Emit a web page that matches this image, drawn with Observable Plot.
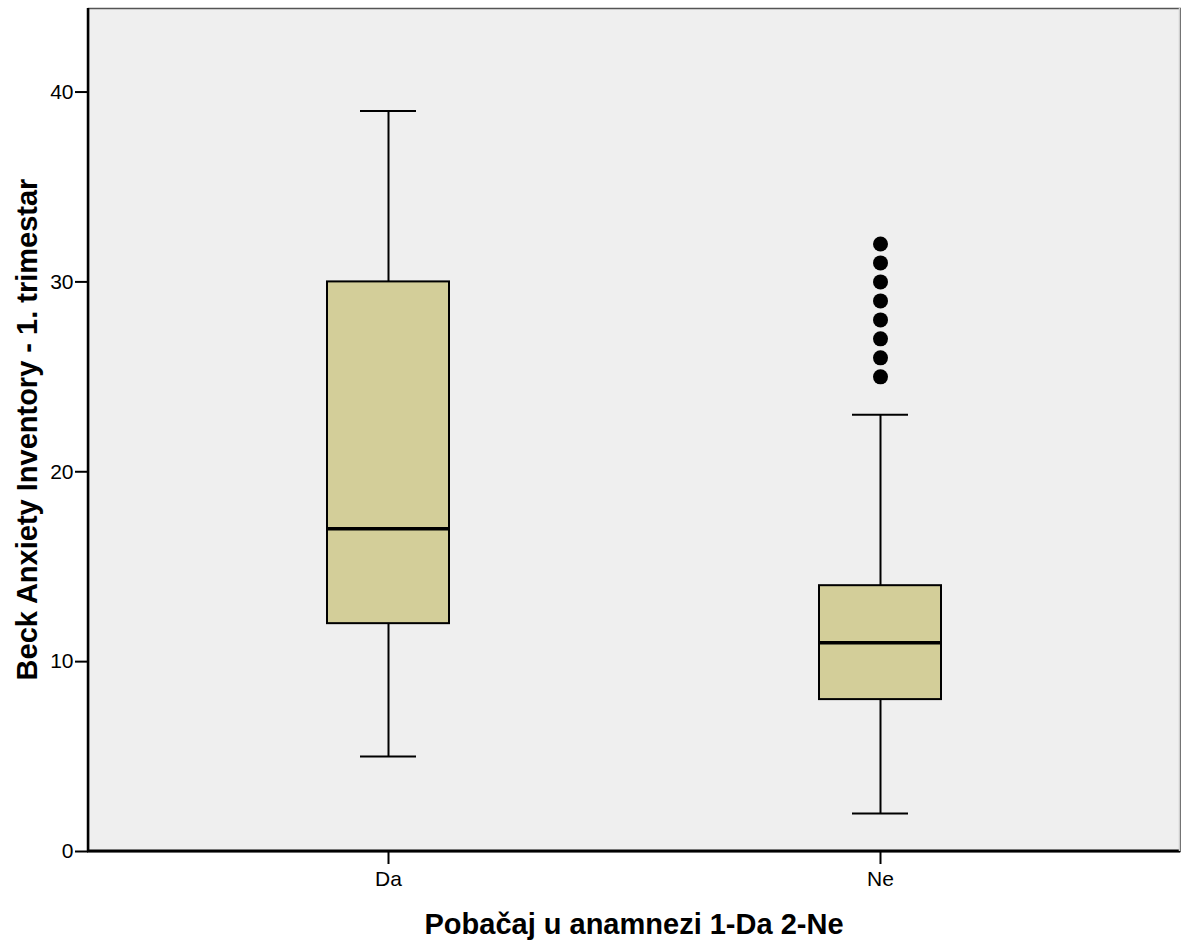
<!DOCTYPE html>
<html>
<head>
<meta charset="utf-8">
<script src="https://cdn.jsdelivr.net/npm/d3@7"></script>
<script src="https://cdn.jsdelivr.net/npm/@observablehq/plot@0.6"></script>
<style>
  html, body { margin: 0; padding: 0; background: #fff; }
  #chart svg { display: block; }
</style>
</head>
<body>
<div id="chart"></div>
<script>
const groups = ["Da", "Ne"];
const whiskerLow = [5, 2];
const q1 = [12, 8];
const median = [17, 11];
const q3 = [30, 14];
const whiskerHigh = [39, 23];
const outlierGroup = ["Ne", "Ne", "Ne", "Ne", "Ne", "Ne", "Ne", "Ne"];
const outlierValues = [25, 26, 27, 28, 29, 30, 31, 32];
const yTicks = [0, 10, 20, 30, 40];

const boxes = groups.map((g, i) => ({
  g, lo: whiskerLow[i], q1: q1[i], med: median[i], q3: q3[i], hi: whiskerHigh[i]
}));
const outliers = outlierValues.map((v, i) => ({g: outlierGroup[i], v}));

const W = 1181, H = 942;
const mL = 88, mR = 1, mT = 8, mB = 91;
const FONT = "'Liberation Sans', Arial, sans-serif";

const chart = Plot.plot({
  width: W,
  height: H,
  marginLeft: mL,
  marginRight: mR,
  marginTop: mT,
  marginBottom: mB,
  style: {fontFamily: FONT, background: "#fff", fontSize: "21px"},
  x: {domain: groups, paddingInner: 0.752, paddingOuter: 0.4857, label: null},
  y: {domain: [0, 44.4], label: null},
  marks: [
    Plot.frame({fill: "#efefef", stroke: "#555", strokeWidth: 1.5}),
    Plot.ruleX(boxes, {x: "g", y1: "q3", y2: "hi", stroke: "#000", strokeWidth: 2}),
    Plot.ruleX(boxes, {x: "g", y1: "lo", y2: "q1", stroke: "#000", strokeWidth: 2}),
    Plot.tickY(boxes, {x: "g", y: "hi", stroke: "#000", strokeWidth: 2, insetLeft: 33, insetRight: 33}),
    Plot.tickY(boxes, {x: "g", y: "lo", stroke: "#000", strokeWidth: 2, insetLeft: 33, insetRight: 33}),
    Plot.barY(boxes, {x: "g", y1: "q1", y2: "q3", fill: "#d3ce99", stroke: "#000", strokeWidth: 2}),
    Plot.tickY(boxes, {x: "g", y: "med", stroke: "#000", strokeWidth: 3.5}),
    Plot.dot(outliers, {x: "g", y: "v", r: 7.5, fill: "#000", stroke: "none"}),
    Plot.axisY({ticks: yTicks, tickSize: 13, tickPadding: 2, fontSize: 21, label: null, stroke: "#000", strokeWidth: 2}),
    Plot.axisX({tickSize: 13, tickPadding: 7, fontSize: 21, label: null, stroke: "#000", strokeWidth: 2})
  ]
});

const svg = d3.select(chart);
// force tick label size inline
svg.selectAll("text").style("font-size", "21px");

// axis lines (left and bottom), drawn over the frame border
svg.append("line")
  .attr("x1", mL).attr("x2", mL).attr("y1", mT).attr("y2", H - mB)
  .attr("stroke", "#000").attr("stroke-width", 2.5);
svg.append("line")
  .attr("x1", mL - 1).attr("x2", W - mR).attr("y1", H - mB).attr("y2", H - mB)
  .attr("stroke", "#000").attr("stroke-width", 3);
svg.append("line")
  .attr("x1", W - mR - 0.5).attr("x2", W - mR - 0.5).attr("y1", mT).attr("y2", H - mB)
  .attr("stroke", "#cfcfcf").attr("stroke-width", 1.5);

// axis titles
svg.append("text")
  .attr("transform", `translate(37, ${(mT + H - mB) / 2}) rotate(-90)`)
  .attr("text-anchor", "middle")
  .style("font-family", FONT)
  .style("font-weight", "bold")
  .style("font-size", "29px")
  .attr("fill", "#000")
  .text("Beck Anxiety Inventory - 1. trimestar");
svg.append("text")
  .attr("x", (mL + W - mR) / 2)
  .attr("y", 934)
  .attr("text-anchor", "middle")
  .style("font-family", FONT)
  .style("font-weight", "bold")
  .style("font-size", "29px")
  .attr("fill", "#000")
  .text("Pobačaj u anamnezi 1-Da 2-Ne");

document.getElementById("chart").appendChild(chart);
</script>
</body>
</html>
